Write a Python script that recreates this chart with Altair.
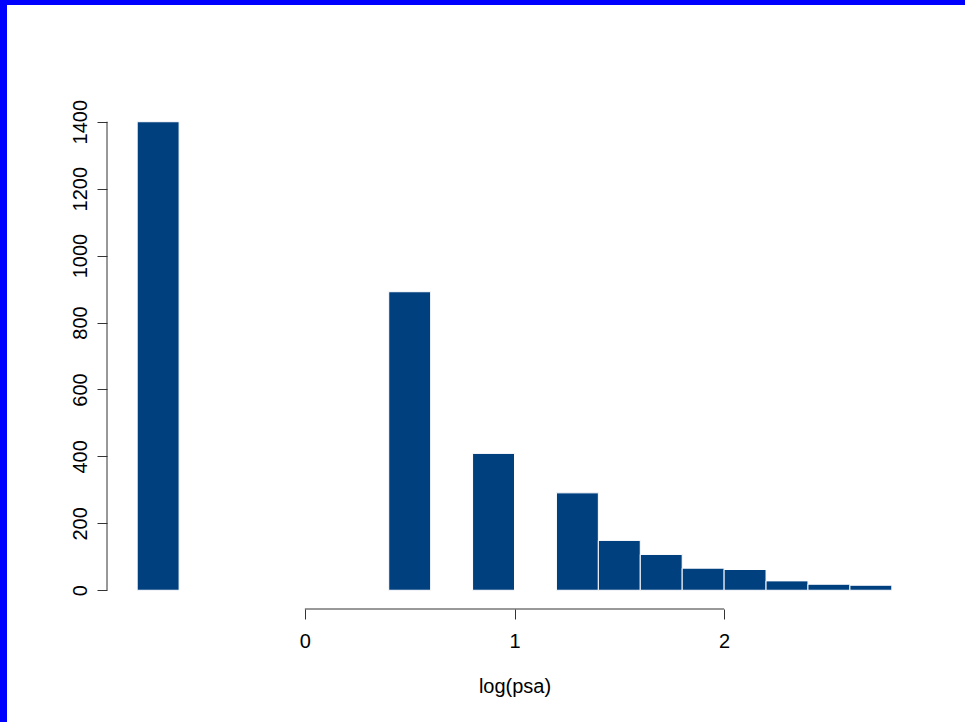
import altair as alt
import pandas as pd

# Histogram of log(psa): bin edges and counts per bin
breaks = [-0.8, -0.6, -0.4, -0.2, 0.0, 0.2, 0.4, 0.6, 0.8, 1.0, 1.2, 1.4,
          1.6, 1.8, 2.0, 2.2, 2.4, 2.6, 2.8]
counts = [1400, 0, 0, 0, 0, 0, 892, 0, 409, 0, 291, 149, 107, 66, 62, 28, 18, 15]

x_ticks = [0, 1, 2]
y_ticks = [0, 200, 400, 600, 800, 1000, 1200, 1400]

bins = pd.DataFrame({
    "start": breaks[:-1],
    "end": breaks[1:],
    "count": counts,
    "base": [0] * len(counts),
})

# plot region limits, extended by 4% on each side
x_span = breaks[-1] - breaks[0]
x_dom = [breaks[0] - 0.04 * x_span, breaks[-1] + 0.04 * x_span]
y_max = max(counts)
y_dom = [-0.04 * y_max, 1.04 * y_max]

W, H = 815, 506
PAD_L, PAD_T = 107, 103
PAD_R, PAD_B = 965 - PAD_L - W, 722 - PAD_T - H

FONT = "Liberation Sans"
FS = 20
LINE = "#333333"
BAR = "#00407f"

x_scale = alt.Scale(domain=x_dom, nice=False, zero=False)
y_scale = alt.Scale(domain=y_dom, nice=False, zero=False)

# white page area, inset from the blue frame
page = alt.Chart(alt.Data(values=[{}])).mark_rect(color="white").encode(
    x=alt.value(7 - PAD_L), x2=alt.value(965 - PAD_L),
    y=alt.value(5 - PAD_T), y2=alt.value(722 - PAD_T),
)

bars = alt.Chart(bins).mark_bar(
    color=BAR, stroke="white", strokeWidth=1, opacity=1
).encode(
    x=alt.X("start:Q", scale=x_scale,
            axis=alt.Axis(values=x_ticks, format="d", grid=False, domain=False,
                          tickSize=10, tickColor=LINE, tickWidth=1,
                          labelFontSize=FS, labelFont=FONT, labelColor="black",
                          labelBaseline="alphabetic", labelPadding=28,
                          title="log(psa)", titleFont=FONT, titleFontSize=FS,
                          titleFontWeight="normal", titleColor="black",
                          titleBaseline="alphabetic", titleY=83, zindex=1)),
    x2="end:Q",
    y=alt.Y("count:Q", scale=y_scale,
            axis=alt.Axis(values=y_ticks, format="d", grid=False, domain=False,
                          tickSize=10, tickColor=LINE, tickWidth=1,
                          labelFontSize=FS, labelFont=FONT, labelColor="black",
                          labelAngle=270, labelAlign="center",
                          labelBaseline="alphabetic", labelPadding=11,
                          title=None, zindex=1)),
    y2="base:Q",
)

# axis lines spanning only the first to last tick
x_line = alt.Chart(pd.DataFrame({"a": [x_ticks[0]], "b": [x_ticks[-1]]})).mark_rule(
    color=LINE, strokeWidth=1
).encode(
    x=alt.X("a:Q", scale=x_scale), x2="b:Q", y=alt.value(H),
)

y_line = alt.Chart(pd.DataFrame({"a": [y_ticks[0]], "b": [y_ticks[-1]]})).mark_rule(
    color=LINE, strokeWidth=1
).encode(
    y=alt.Y("a:Q", scale=y_scale), y2="b:Q", x=alt.value(0),
)

chart = alt.layer(page, bars, x_line, y_line).properties(
    width=W, height=H,
    background="#0000ff",
    padding={"left": PAD_L, "top": PAD_T, "right": PAD_R, "bottom": PAD_B},
    autosize=alt.AutoSizeParams(type="none"),
).configure_view(stroke=None)

chart.save("out.html", embed_options={"renderer": "svg", "actions": False})
